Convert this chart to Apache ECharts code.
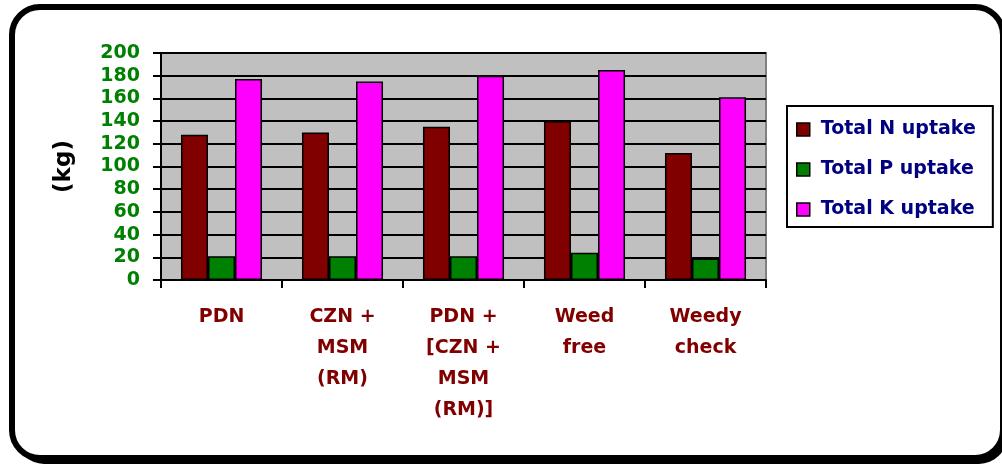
<!DOCTYPE html>
<html>
<head>
<meta charset="utf-8">
<script src="https://cdn.jsdelivr.net/npm/echarts@6/dist/echarts.min.js"></script>
<style>
  html, body { margin: 0; padding: 0; background: #ffffff; }
  #chart { width: 1002px; height: 466px; }
</style>
</head>
<body>
<div id="chart"></div>
<script>
const categories = ['PDN', 'CZN +\nMSM\n(RM)', 'PDN +\n[CZN +\nMSM\n(RM)]', 'Weed\nfree', 'Weedy\ncheck'];
const seriesNames = ['Total N uptake', 'Total P uptake', 'Total K uptake'];
const nUptake = [128, 130, 135, 140, 112];
const pUptake = [21, 21, 21, 24, 19];
const kUptake = [177, 175, 180, 185, 161];
const yMin = 0, yMax = 200, yStep = 20;
const axisTitle = '(kg)';

const FONT = 'DejaVu Sans';
const chart = echarts.init(document.getElementById('chart'), null, { renderer: 'canvas' });

function bar(name, data, color) {
  return {
    name: name,
    type: 'bar',
    data: data,
    barGap: '0%',
    barCategoryGap: '33%',
    itemStyle: { color: color, borderColor: '#000000', borderWidth: 1.5 },
    emphasis: { disabled: true }
  };
}

chart.setOption({
  animation: false,
  backgroundColor: '#ffffff',
  graphic: [
    { type: 'rect', z: -20, silent: true,
      shape: { x: 16, y: 13, width: 991, height: 451, r: 28 },
      style: { fill: '#000000' } },
    { type: 'rect', z: -19, silent: true,
      shape: { x: 12, y: 7, width: 991, height: 451, r: 28 },
      style: { fill: '#ffffff', stroke: '#000000', lineWidth: 6 } }
  ],
  grid: {
    left: 161, right: 236, top: 53, bottom: 186,
    show: true, backgroundColor: '#C0C0C0', borderColor: '#808080', borderWidth: 2
  },
  legend: {
    orient: 'vertical',
    left: 787, top: 106,
    padding: [14, 17, 8, 9],
    itemGap: 21,
    itemWidth: 13, itemHeight: 13,
    icon: 'rect',
    backgroundColor: '#ffffff',
    borderColor: '#000000', borderWidth: 2,
    itemStyle: { borderColor: '#000000', borderWidth: 1.5 },
    textStyle: { color: '#000080', fontFamily: FONT, fontWeight: 'bold', fontSize: 19, padding: [0, 0, 0, 6] },
    data: seriesNames
  },
  xAxis: {
    type: 'category',
    data: categories,
    axisLine: { lineStyle: { color: '#000000', width: 2 } },
    axisTick: { show: true, length: 8, lineStyle: { color: '#000000', width: 2 } },
    axisLabel: {
      interval: 0, margin: 22,
      color: '#800000', fontFamily: FONT, fontWeight: 'bold', fontSize: 19, lineHeight: 31
    }
  },
  yAxis: {
    type: 'value',
    min: yMin, max: yMax, interval: yStep,
    name: axisTitle,
    nameLocation: 'middle',
    nameGap: 85,
    nameRotate: 90,
    nameTextStyle: { color: '#000000', fontFamily: FONT, fontWeight: 'bold', fontSize: 23 },
    axisLine: { show: true, lineStyle: { color: '#000000', width: 2 } },
    axisTick: { show: true, length: 8, lineStyle: { color: '#000000', width: 2 } },
    splitLine: { show: true, lineStyle: { color: '#000000', width: 2 } },
    axisLabel: { margin: 21, color: '#008000', fontFamily: FONT, fontWeight: 'bold', fontSize: 19 }
  },
  series: [
    bar(seriesNames[0], nUptake, '#800000'),
    bar(seriesNames[1], pUptake, '#008000'),
    bar(seriesNames[2], kUptake, '#FF00FF')
  ]
});
</script>
</body>
</html>
